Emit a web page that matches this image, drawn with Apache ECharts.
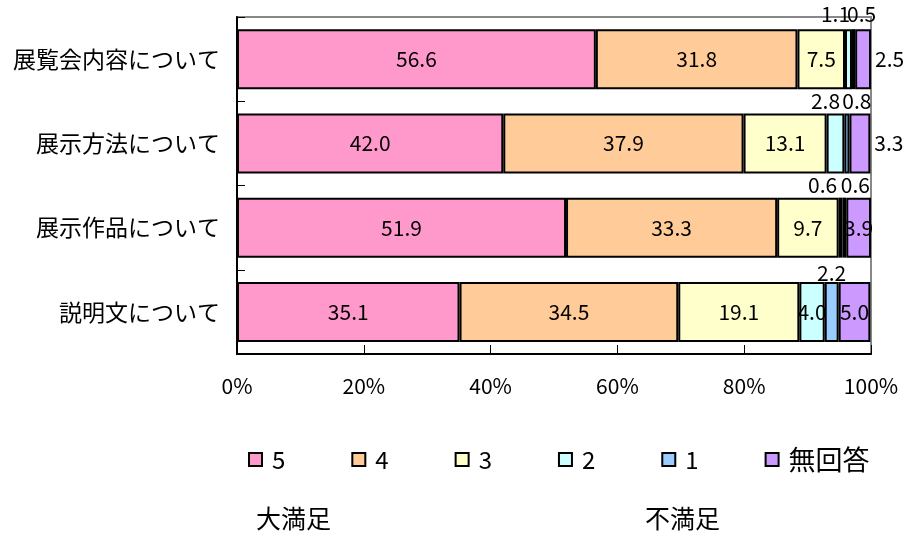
<!DOCTYPE html>
<html>
<head>
<meta charset="utf-8">
<script src="https://cdn.jsdelivr.net/npm/echarts@6/dist/echarts.min.js"></script>
<style>
  html, body { margin: 0; padding: 0; background: #fff; }
  #chart { width: 919px; height: 537px; }
</style>
</head>
<body>
<div id="chart"></div>
<script>
// 項目
var categories = ['展覧会内容について', '展示方法について', '展示作品について', '説明文について'];
var seriesNames = ['5', '4', '3', '2', '1', '無回答'];
// 各評価の割合（％）
var val5 = [56.6, 42.0, 51.9, 35.1];
var val4 = [31.8, 37.9, 33.3, 34.5];
var val3 = [7.5, 13.1, 9.7, 19.1];
var val2 = [1.1, 2.8, 0.6, 4.0];
var val1 = [0.5, 0.8, 0.6, 2.2];
var valNA = [2.5, 3.3, 3.9, 5.0];
var xTicks = [0, 20, 40, 60, 80, 100];

var colors = ['#FF99CC', '#FFCC99', '#FFFFCC', '#CCFFFF', '#99CCFF', '#CC99FF'];
var FONT = "'Noto Sans CJK JP', sans-serif";

// 小さい値のラベル位置（系列番号-行番号）
var labelFix = {
  '3-0': { position: 'top', offset: [-13, 0] },
  '4-0': { position: 'top', offset: [8, 0] },
  '5-0': { position: 'right', distance: 4 },
  '3-1': { position: 'top', offset: [-10, 3] },
  '4-1': { position: 'top', offset: [10, 3] },
  '5-1': { position: 'right', distance: 4 },
  '3-2': { position: 'top', offset: [-18, 3] },
  '4-2': { position: 'top', offset: [11, 3] },
  '4-3': { position: 'top', offset: [0, 7] }
};

var chart = echarts.init(document.getElementById('chart'));

var allData = [val5, val4, val3, val2, val1, valNA];
var series = allData.map(function (arr, si) {
  return {
    name: seriesNames[si],
    type: 'bar',
    stack: 'total',
    barWidth: 60,
    itemStyle: { color: colors[si], borderColor: '#000', borderWidth: 2 },
    label: {
      show: true,
      position: 'inside',
      color: '#000',
      fontSize: 21,
      fontFamily: FONT,
      formatter: function (p) { return p.value.toFixed(1); }
    },
    data: arr.map(function (v, ci) {
      var fix = labelFix[si + '-' + ci];
      return fix ? { value: v, label: fix } : v;
    })
  };
});

var option = {
  animation: false,
  color: colors,
  textStyle: { fontFamily: FONT },
  grid: {
    left: 237, right: 48, top: 17, bottom: 183,
    show: true, borderColor: '#888', borderWidth: 2
  },
  legend: {
    data: seriesNames,
    left: 243,
    top: 441,
    icon: 'rect',
    itemWidth: 13,
    itemHeight: 13,
    itemGap: 66,
    itemStyle: { borderColor: '#000', borderWidth: 2 },
    formatter: function (name) {
      return /^\d+$/.test(name) ? name : '{c|' + name + '}';
    },
    textStyle: {
      fontSize: 24, color: '#000', fontFamily: FONT,
      padding: [0, 0, 0, 5],
      rich: { c: { fontSize: 27, color: '#000', fontFamily: FONT } }
    }
  },
  xAxis: {
    type: 'value',
    min: 0, max: 100, interval: 20,
    axisLine: { show: true, lineStyle: { color: '#000', width: 2 } },
    axisTick: { show: true, inside: true, length: 9, lineStyle: { color: '#000', width: 1 } },
    splitLine: { show: false },
    axisLabel: {
      color: '#000', fontSize: 21, margin: 22, fontFamily: FONT,
      formatter: function (v) { return xTicks.indexOf(v) >= 0 ? v + '%' : ''; }
    }
  },
  yAxis: {
    type: 'category',
    inverse: true,
    data: categories,
    axisLine: { show: true, lineStyle: { color: '#000', width: 2 } },
    axisTick: { show: true, inside: true, length: 8, lineStyle: { color: '#000', width: 1 } },
    axisLabel: { color: '#000', fontSize: 23, margin: 17, fontFamily: FONT }
  },
  graphic: [
    { type: 'text', left: 256, top: 506, style: { text: '大満足', fill: '#000', font: "25px 'Noto Sans CJK JP'" } },
    { type: 'text', left: 645, top: 506, style: { text: '不満足', fill: '#000', font: "25px 'Noto Sans CJK JP'" } }
  ],
  series: series
};

chart.setOption(option);
</script>
</body>
</html>
